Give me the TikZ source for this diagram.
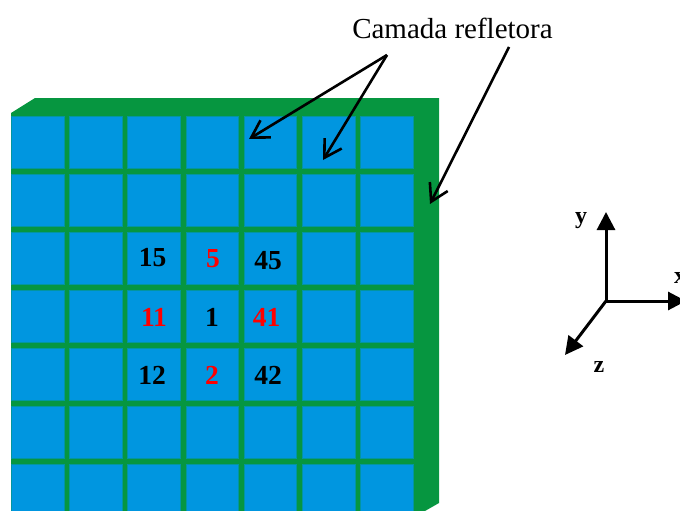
\documentclass[tikz,border=0pt]{standalone}
\usepackage{fontspec}
\setmainfont{Liberation Serif}
\usetikzlibrary{arrows.meta}
\definecolor{gr}{HTML}{069640}
\definecolor{bl}{HTML}{0096E0}
\definecolor{mx}{HTML}{0395A0}
\tikzset{
  cell/.style={fill=bl,draw=mx,line width=1pt,outer sep=0pt},
  num/.style={font=\fontsize{27.5}{27.5}\selectfont\bfseries,inner sep=0pt,text=black},
  rnum/.style={num,text=red},
  axlab/.style={font=\fontsize{24}{24}\selectfont\bfseries,inner sep=0pt},
  callout/.style={line width=2.6pt,-{Straight Barb[length=17pt,width=20pt,line width=2.6pt]}},
  axis/.style={line width=3pt,-{Triangle[length=18pt,width=18pt]}}
}
\begin{document}
\begin{tikzpicture}[x=1pt,y=-1pt]
\useasboundingbox (0,0) rectangle (680,511);
\fill[gr] (11,113) -- (35,98) -- (439,98) -- (439,503) -- (425,511) -- (11,511) -- cycle;
\foreach \c in {0,...,6}{
  \foreach \r in {0,...,6}{
    \pgfmathsetmacro{\xa}{11.5+58.2*\c}
    \pgfmathsetmacro{\ya}{116.5+58*\r}
    \node[cell,minimum width=52.5pt,minimum height=52pt,inner sep=0pt,anchor=north west] (c\c-\r) at (\xa,\ya) {};
  }
}
\node[num] (n15) at (152.5,258) {15};
\node[rnum] (n5) at (213,259) {5};
\node[num] (n45) at (268,261) {45};
\node[rnum] (n11) at (154,317) {11};
\node[num] (n1) at (212,317) {1};
\node[rnum] (n41) at (266.5,317) {41};
\node[num] (n12) at (152,375) {12};
\node[rnum] (n2) at (212,375) {2};
\node[num] (n42) at (268,375) {42};
\node[inner sep=0pt,font=\fontsize{29}{29}\selectfont] (cap) at (452.5,28) {Camada refletora};
\coordinate (s1) at (387,55);
\coordinate (s2) at (509,47);
\coordinate (t1) at (249,139);
\coordinate (t2) at (323,160);
\coordinate (t3) at (430,204);
\draw[callout] (s1) -- (t1);
\draw[callout] (s1) -- (t2);
\draw[callout] (s2) -- (t3);
\coordinate (o) at (606,301);
\coordinate (ay) at (606,212);
\coordinate (ax) at (686,301);
\coordinate (az) at (565,355);
\draw[axis] (o) -- (ay);
\draw[axis] (o) -- (ax);
\draw[axis] (o) -- (az);
\node[axlab] (ly) at (581,221) {y};
\node[axlab] (lx) at (680,278) {x};
\node[axlab] (lz) at (599,367) {z};
\end{tikzpicture}
\end{document}
